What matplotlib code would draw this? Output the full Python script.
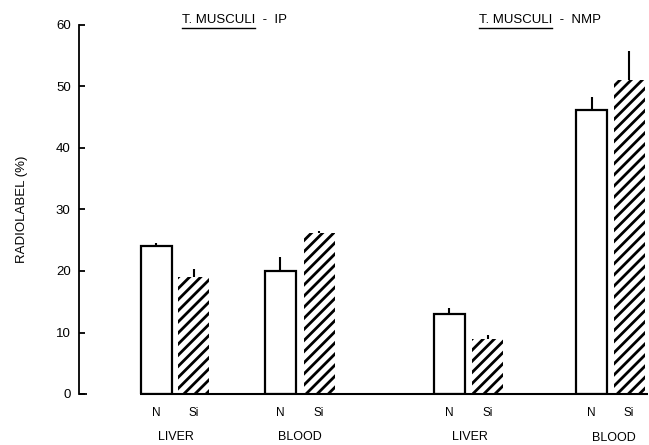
import matplotlib
matplotlib.use("Agg")
import matplotlib.pyplot as plt
from matplotlib.lines import Line2D

plt.rcParams['font.family'] = ['Liberation Sans', 'DejaVu Sans']
plt.rcParams['hatch.linewidth'] = 2.0

# ---- data ----
panels = ["IP", "NMP"]
tissues = ["LIVER", "BLOOD"]
conditions = ["N", "Si"]
# values in order: IP-LIVER N, Si, IP-BLOOD N, Si, NMP-LIVER N, Si, NMP-BLOOD N, Si
values = [24.0, 19.0, 20.0, 26.2, 13.0, 9.0, 46.2, 51.1]
errors = [0.6, 1.4, 2.2, 0.3, 1.0, 0.6, 2.1, 4.6]
yticks = [0, 10, 20, 30, 40, 50, 60]

# ---- layout (pixels) ----
W, H, DPI = 649, 445, 100
fig = plt.figure(figsize=(W / DPI, H / DPI), dpi=DPI)
ax_left, ax_right = 79, 649
ax_top, ax_bottom = 25, 394
ax = fig.add_axes([ax_left / W, 1 - ax_bottom / H,
                   (ax_right - ax_left) / W, (ax_bottom - ax_top) / H])
ax.set_xlim(ax_left, ax_right)
ax.set_ylim(0, 60)

centers = [156, 193.5, 280, 319, 449, 487.5, 591.5, 629]
bw = 31

for i, (c, v, e) in enumerate(zip(centers, values, errors)):
    if i % 2 == 0:
        ax.bar(c, v, width=bw, facecolor='white', edgecolor='black',
               linewidth=1.6, zorder=2)
    else:
        ax.bar(c, v, width=bw, facecolor='white', edgecolor='black',
               linewidth=0, hatch='///', zorder=2)
    ax.vlines(c, v, v + e, color='black', linewidth=1.5, zorder=3)

# baseline under bars
ax.hlines(0, 140, 648, color='black', linewidth=1.5, zorder=4, clip_on=False)
# longer zero tick
ax.hlines(0, ax_left, 87, color='black', linewidth=1.3, zorder=4, clip_on=False)

for s in ['top', 'right', 'bottom']:
    ax.spines[s].set_visible(False)
ax.spines['left'].set_linewidth(1.3)
ax.set_xticks([])
ax.set_yticks(yticks)
ax.set_yticklabels([str(t) for t in yticks], fontsize=9.5)
ax.tick_params(axis='y', direction='in', length=4, width=1.3, pad=6)

def fy(py):
    return 1 - py / H

def fx(px):
    return px / W

for i, c in enumerate(centers):
    fig.text(fx(c), fy(413), conditions[i % 2], ha='center', va='center', fontsize=8.5)
group_x = [176, 300, 470, 614]
group_y = [437, 437, 437, 438]
for g, (gx, gy) in enumerate(zip(group_x, group_y)):
    fig.text(fx(gx), fy(gy), tissues[g % 2], ha='center', va='center', fontsize=9)

fig.text(fx(22), fy(209), "RADIOLABEL (%)", rotation=90, ha='center', va='center', fontsize=9.5)

# panel titles with underlined species name
title_left = [182, 479]
fig.canvas.draw()
renderer = fig.canvas.get_renderer()
for p, tl in zip(panels, title_left):
    t1 = fig.text(fx(tl), fy(20), "T. MUSCULI", ha='left', va='center', fontsize=9.5)
    bb = t1.get_window_extent(renderer)
    fig.text(bb.x1 / W + fx(4), fy(20), " -  " + p, ha='left', va='center', fontsize=9.5)
    uy = bb.y0 / H - 1.5 / H
    fig.add_artist(Line2D([bb.x0 / W, bb.x1 / W], [uy, uy], color='black',
                          linewidth=1.0, transform=fig.transFigure))

fig.savefig("out.png", dpi=DPI)
